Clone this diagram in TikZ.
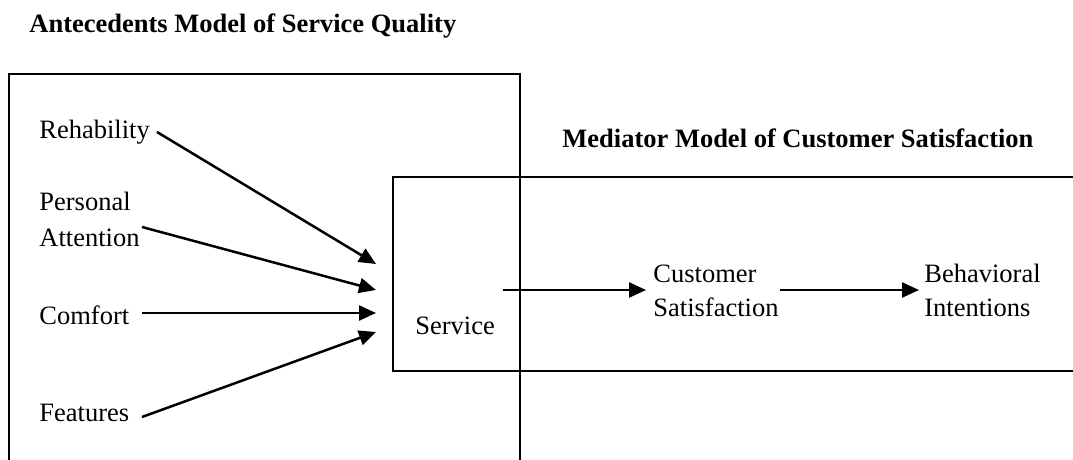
\documentclass[tikz,border=0pt]{standalone}
\usepackage{fontspec}
\setmainfont{Liberation Serif}
\usetikzlibrary{arrows.meta}
\begin{document}
\begin{tikzpicture}[x=0.5pt,y=-0.5pt,
  lbl/.style={anchor=base west,inner sep=0pt,font=\fontsize{13.25pt}{17pt}\selectfont},
  ttl/.style={lbl,font=\fontsize{13.25pt}{17pt}\selectfont\bfseries},
  frame/.style={draw=black,line width=1pt},
  arr/.style={draw=black,line width=1.25pt,-{Triangle[length=8.5pt,width=7.5pt]}}]
\useasboundingbox (0,0) rectangle (1073,460);
% boxes (open at bottom / right)
\draw[frame] (9,470) -- (9,74) -- (520,74) -- (520,470);
\draw[frame] (1080,177) -- (393,177) -- (393,371) -- (1080,371);
% titles
\node[ttl] (t1) at (29,33) {Antecedents Model of Service Quality};
\node[ttl] (t2) at (562,148) {Mediator Model of Customer Satisfaction};
% labels
\node[lbl] (reh) at (39,139) {Rehability};
\node[lbl] (pers) at (39,211) {Personal};
\node[lbl] (att) at (39,247) {Attention};
\node[lbl] (com) at (39,325) {Comfort};
\node[lbl] (fea) at (39,422) {Features};
\node[lbl] (ser) at (415,335) {Service};
\node[lbl] (cus1) at (653,283) {Customer};
\node[lbl] (cus2) at (653,317) {Satisfaction};
\node[lbl] (beh1) at (924,283) {Behavioral};
\node[lbl] (beh2) at (924,317) {Intentions};
% connector end points
\coordinate (rS) at (157,132); \coordinate (rE) at (376,264);
\coordinate (pS) at (142,227); \coordinate (pE) at (376,290);
\coordinate (cS) at (142,313); \coordinate (cE) at (376,313);
\coordinate (fS) at (142,417); \coordinate (fE) at (376,332);
\coordinate (sS) at (503,290); \coordinate (sE) at (646,290);
\coordinate (csS) at (780,290); \coordinate (csE) at (919,290);
\draw[arr] (rS) -- (rE);
\draw[arr] (pS) -- (pE);
\draw[arr] (cS) -- (cE);
\draw[arr] (fS) -- (fE);
\draw[arr] (sS) -- (sE);
\draw[arr] (csS) -- (csE);
\end{tikzpicture}
\end{document}
